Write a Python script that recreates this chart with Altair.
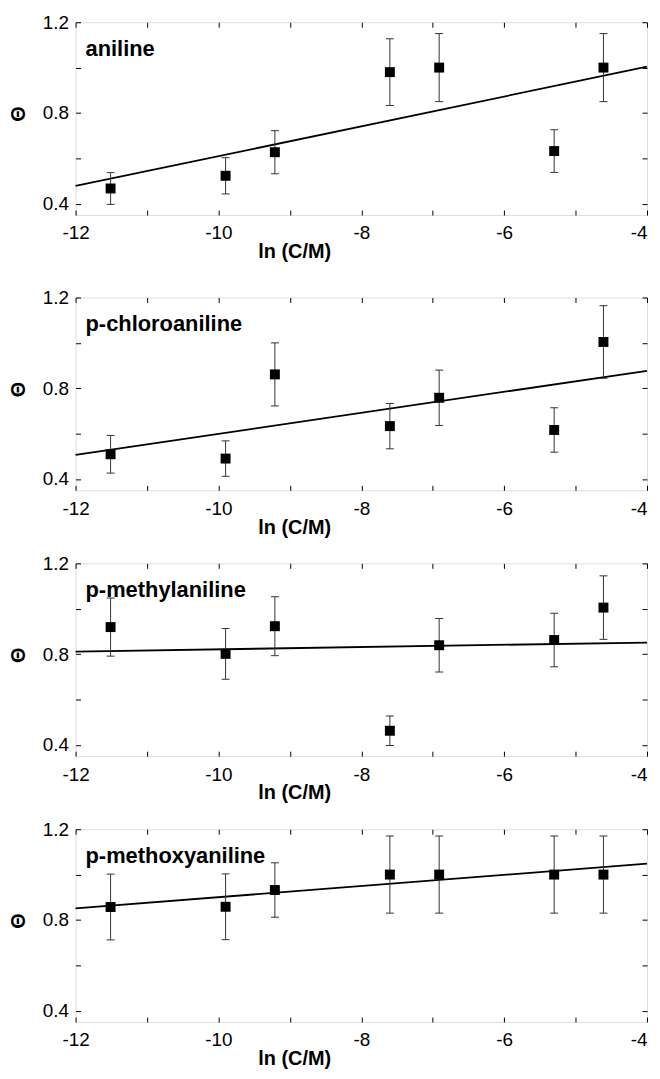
import altair as alt
import pandas as pd

# ---- data ----
x_vals = [-11.51, -9.90, -9.21, -7.60, -6.91, -5.30, -4.61]   # ln(C/M)
names = ["aniline", "p-chloroaniline", "p-methylaniline", "p-methoxyaniline"]

theta_aniline = [0.467, 0.523, 0.627, 0.980, 1.000, 0.632, 1.000]
err_aniline = [0.070, 0.080, 0.095, 0.147, 0.150, 0.094, 0.150]
fit_aniline = [0.478, 1.004]

theta_chloro = [0.509, 0.490, 0.861, 0.633, 0.758, 0.616, 1.004]
err_chloro = [0.083, 0.078, 0.139, 0.100, 0.122, 0.098, 0.160]
fit_chloro = [0.506, 0.877]

theta_methyl = [0.919, 0.801, 0.923, 0.462, 0.839, 0.862, 1.005]
err_methyl = [0.128, 0.112, 0.130, 0.065, 0.118, 0.118, 0.140]
fit_methyl = [0.811, 0.851]

theta_methoxy = [0.857, 0.858, 0.932, 1.000, 1.000, 1.000, 1.000]
err_methoxy = [0.145, 0.145, 0.120, 0.170, 0.170, 0.170, 0.170]
fit_methoxy = [0.851, 1.048]

fit_x = [-12, -4]
x_ticks = [-12, -11, -10, -9, -8, -7, -6, -5, -4]
y_ticks = [0.4, 0.6, 0.8, 1.0, 1.2]

FONT = "Liberation Sans"
W, H = 575, 194
TS = 5

xscale = alt.Scale(domain=[-12, -4], nice=False, zero=False)
yscale = alt.Scale(domain=[0.35, 1.2], nice=False, zero=False)

common = dict(grid=False, domain=False, tickSize=TS, offset=-TS, tickColor="black",
              tickWidth=1, labelColor="black", labelFont=FONT, labelFontSize=19,
              labelFlush=False, titleFont=FONT, titleColor="black")

x_bottom = alt.Axis(orient="bottom", values=x_ticks,
                    labelExpr="datum.value % 2 == 0 ? '' + datum.value : ''",
                    labelAlign={"condition": {"test": "datum.value == -4", "value": "right"},
                                "value": "center"},
                    labelPadding=9, title="ln (C/M)", titleFontSize=20,
                    titleFontWeight="bold", titleX=220, titlePadding=-1, **common)
y_left = alt.Axis(orient="left", values=y_ticks,
                  labelExpr="abs(round(datum.value * 10) % 4) == 0 ? format(datum.value, '.1f') : ''",
                  labelPadding=7, title="Θ", titleFontSize=20, titleFontWeight="bold",
                  titleY=92, titlePadding=14, **common)
x_top = alt.Axis(orient="top", values=x_ticks, labels=False, title=None,
                 minExtent=0, maxExtent=TS, **common)
y_right = alt.Axis(orient="right", values=y_ticks, labels=False, title=None,
                   minExtent=0, maxExtent=TS, **common)


def panel(name, ys, errs, fit):
    pts = pd.DataFrame({
        "x": x_vals,
        "y": ys,
        "lo": [y - e for y, e in zip(ys, errs)],
        "hi": [y + e for y, e in zip(ys, errs)],
    })
    fit_df = pd.DataFrame({"x": fit_x, "y": fit})
    lab = pd.DataFrame({"name": [name]})

    line = alt.Chart(fit_df).mark_line(color="black", strokeWidth=1.8).encode(
        x=alt.X("x:Q", scale=xscale, axis=x_bottom),
        y=alt.Y("y:Q", scale=yscale, axis=y_left),
    )
    bars = alt.Chart(pts).mark_rule(color="#333333", strokeWidth=1).encode(
        x=alt.X("x:Q", scale=xscale, axis=x_top),
        y=alt.Y("lo:Q", scale=yscale, axis=y_right),
        y2="hi:Q",
    )
    cap_lo = alt.Chart(pts).mark_tick(orient="horizontal", size=8, thickness=1,
                                      color="#333333", opacity=1).encode(
        x=alt.X("x:Q", scale=xscale, axis=None),
        y=alt.Y("lo:Q", scale=yscale, axis=None),
    )
    cap_hi = alt.Chart(pts).mark_tick(orient="horizontal", size=8, thickness=1,
                                      color="#333333", opacity=1).encode(
        x=alt.X("x:Q", scale=xscale, axis=None),
        y=alt.Y("hi:Q", scale=yscale, axis=None),
    )
    sq = alt.Chart(pts).mark_square(size=100, color="black", opacity=1).encode(
        x=alt.X("x:Q", scale=xscale, axis=None),
        y=alt.Y("y:Q", scale=yscale, axis=None),
    )
    txt = alt.Chart(lab).mark_text(align="left", baseline="alphabetic", font=FONT,
                                   fontSize=22, fontWeight="bold", color="black").encode(
        x=alt.value(10), y=alt.value(34), text="name:N",
    )
    return alt.layer(line, bars, cap_lo, cap_hi, sq, txt).resolve_axis(
        x="independent", y="independent"
    ).properties(width=W, height=H)


p1 = panel(names[0], theta_aniline, err_aniline, fit_aniline)
p2 = panel(names[1], theta_chloro, err_chloro, fit_chloro)
p3 = panel(names[2], theta_methyl, err_methyl, fit_methyl)
p4 = panel(names[3], theta_methoxy, err_methoxy, fit_methoxy)

lower = alt.vconcat(p2, p3, p4, spacing=15.5)
chart = alt.vconcat(p1, lower, spacing=25).properties(
    padding={"left": 0, "top": 1, "right": 0, "bottom": 2}
).configure_view(
    stroke="#111111", strokeWidth=1.6
).configure(background="white")

chart.save("out.html", embed_options={"renderer": "svg", "actions": False})
